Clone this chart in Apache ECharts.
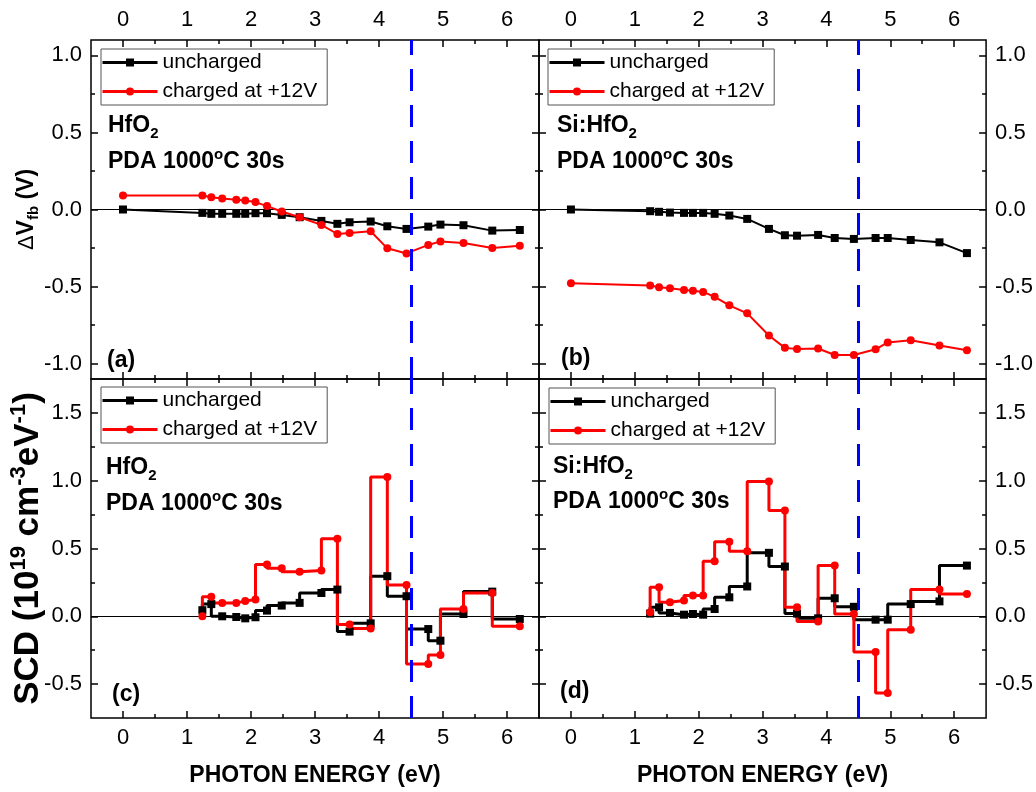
<!DOCTYPE html>
<html>
<head>
<meta charset="utf-8">
<script src="https://cdn.jsdelivr.net/npm/echarts@6/dist/echarts.min.js"></script>
<style>
  html, body { margin: 0; padding: 0; background: #fff; }
  #chart { width: 1036px; height: 792px; }
</style>
</head>
<body>
<div id="chart"></div>
<script>
// Photon energies of the illumination steps (eV); 0 is the dark reference
const photonEnergy = [0, 1.24, 1.38, 1.55, 1.77, 1.91, 2.07, 2.25, 2.48, 2.76, 3.10, 3.35, 3.54, 3.87, 4.13, 4.43, 4.77, 4.96, 5.32, 5.77, 6.20];
// Spectral charge density is given from the first illuminated step on
const scdEnergy = photonEnergy.slice(1);

// Flat-band voltage shift (V)
const dvfbHfO2Uncharged = [0, -0.022, -0.028, -0.028, -0.028, -0.028, -0.024, -0.024, -0.035, -0.050, -0.074, -0.093, -0.083, -0.078, -0.109, -0.126, -0.111, -0.098, -0.102, -0.137, -0.133];
const dvfbHfO2Charged = [0.091, 0.091, 0.080, 0.072, 0.063, 0.059, 0.048, 0.022, -0.013, -0.050, -0.100, -0.159, -0.152, -0.141, -0.252, -0.285, -0.230, -0.207, -0.217, -0.250, -0.235];
const dvfbSiHfO2Uncharged = [0, -0.011, -0.015, -0.020, -0.022, -0.022, -0.022, -0.028, -0.039, -0.061, -0.126, -0.167, -0.170, -0.165, -0.185, -0.191, -0.185, -0.185, -0.198, -0.213, -0.283];
const dvfbSiHfO2Charged = [-0.478, -0.493, -0.504, -0.511, -0.522, -0.528, -0.535, -0.567, -0.622, -0.674, -0.818, -0.898, -0.905, -0.902, -0.944, -0.944, -0.907, -0.863, -0.848, -0.883, -0.913];

// Spectral charge density (1e19 cm^-3 eV^-1)
const scdHfO2Uncharged = [0.045, 0.090, 0.000, -0.005, -0.015, -0.007, 0.042, 0.079, 0.099, 0.172, 0.197, -0.113, -0.052, 0.296, 0.148, -0.094, -0.180, 0.017, 0.182, -0.020];
const scdHfO2Charged = [0.000, 0.145, 0.099, 0.099, 0.112, 0.124, 0.382, 0.354, 0.329, 0.337, 0.571, -0.060, -0.090, 1.027, 0.230, -0.352, -0.286, 0.054, 0.172, -0.074];
const scdSiHfO2Uncharged = [0.020, 0.066, 0.025, 0.012, 0.017, 0.012, 0.054, 0.140, 0.220, 0.468, 0.367, 0.020, -0.015, 0.133, 0.070, -0.025, -0.025, 0.090, 0.110, 0.374];
const scdSiHfO2Charged = [0.030, 0.214, 0.103, 0.116, 0.153, 0.153, 0.406, 0.550, 0.480, 0.995, 0.780, 0.066, -0.039, 0.374, 0.017, -0.263, -0.566, -0.100, 0.197, 0.165];

// Band-gap marker energy (eV)
const thresholdEnergy = 4.5;

// Tick positions
const energyTicks = [0, 1, 2, 3, 4, 5, 6];
const energyMinorTicks = [0.5, 1.5, 2.5, 3.5, 4.5, 5.5];
const dvfbTicks = [-1, -0.5, 0, 0.5, 1];
const dvfbMinorTicks = [-0.75, -0.25, 0.25, 0.75];
const scdTicks = [-0.5, 0, 0.5, 1, 1.5];
const scdMinorTicks = [-0.25, 0.25, 0.75, 1.25];

const seriesNames = ['uncharged', 'charged at +12V'];

const FONT = 'Arial, "Liberation Sans", sans-serif';
const TICK_STYLE = { color: '#000', width: 1.5 };

// rich-text styles for the two y-axis titles
function titleRich(size, subSize) {
  return {
    n: { fontSize: size, fontWeight: 'bold', fontFamily: FONT, color: '#000', lineHeight: size + 6 },
    d: { fontSize: size - 1, fontWeight: 'normal', fontFamily: FONT, color: '#000', lineHeight: size + 6 },
    s: { fontSize: subSize, fontWeight: 'bold', fontFamily: FONT, color: '#000', lineHeight: subSize, verticalAlign: 'bottom' },
    p: { fontSize: subSize, fontWeight: 'bold', fontFamily: FONT, color: '#000', lineHeight: subSize, verticalAlign: 'top' }
  };
}

const panels = [
  { grid: { left: 91, top: 40, width: 448, height: 339 }, yRange: [-1.1, 1.1], yMajor: dvfbTicks, yMinor: dvfbMinorTicks,
    xLabels: 'top', yLabels: 'left', step: false, lineWidth: 2,
    black: dvfbHfO2Uncharged, red: dvfbHfO2Charged, x: photonEnergy,
    yName: '{d|\u0394}{n|V}{s|fb}{n| (V)}', yNameGap: 50, yRich: titleRich(23, 15) },
  { grid: { left: 539, top: 40, width: 449, height: 339 }, yRange: [-1.1, 1.1], yMajor: dvfbTicks, yMinor: dvfbMinorTicks,
    xLabels: 'top', yLabels: 'right', step: false, lineWidth: 2,
    black: dvfbSiHfO2Uncharged, red: dvfbSiHfO2Charged, x: photonEnergy },
  { grid: { left: 91, top: 379, width: 448, height: 339 }, yRange: [-0.75, 1.75], yMajor: scdTicks, yMinor: scdMinorTicks,
    xLabels: 'bottom', yLabels: 'left', step: true, lineWidth: 3,
    black: scdHfO2Uncharged, red: scdHfO2Charged, x: scdEnergy,
    yName: '{n|SCD (10}{p|19}{n| cm}{p|-3}{n|eV}{p|-1}{n|)}', yNameGap: 42, yRich: titleRich(35, 22) },
  { grid: { left: 539, top: 379, width: 449, height: 339 }, yRange: [-0.75, 1.75], yMajor: scdTicks, yMinor: scdMinorTicks,
    xLabels: 'bottom', yLabels: 'right', step: true, lineWidth: 3,
    black: scdSiHfO2Uncharged, red: scdSiHfO2Charged, x: scdEnergy }
];

function axisPair(kind, g, p, pos, labelled) {
  const isX = kind === 'x';
  const base = {
    type: 'value', gridIndex: g, position: pos,
    min: isX ? -0.5 : p.yRange[0], max: isX ? 6.5 : p.yRange[1],
    axisLine: { show: false, onZero: false },
    splitLine: { show: false }
  };
  const major = isX ? energyTicks : p.yMajor;
  const minor = isX ? energyMinorTicks : p.yMinor;
  const majorAxis = Object.assign({}, base, {
    axisTick: { show: true, inside: true, length: 7, lineStyle: TICK_STYLE, customValues: major },
    axisLabel: {
      show: labelled, customValues: major, margin: 9, color: '#000', fontSize: 22, fontFamily: FONT,
      formatter: v => isX ? String(v) : v.toFixed(1)
    }
  });
  if (labelled && isX && pos === 'bottom') {
    Object.assign(majorAxis, {
      name: 'PHOTON ENERGY (eV)', nameLocation: 'middle', nameGap: 46, nameMoveOverlap: false,
      nameTextStyle: { fontSize: 23, fontWeight: 'bold', fontFamily: FONT, color: '#000' }
    });
  }
  if (labelled && !isX && pos === 'left' && p.yName) {
    Object.assign(majorAxis, {
      name: p.yName, nameLocation: 'middle', nameGap: p.yNameGap, nameRotate: 90, nameMoveOverlap: false,
      nameTextStyle: { rich: p.yRich }
    });
  }
  const minorAxis = Object.assign({}, base, {
    axisTick: { show: true, inside: true, length: 4, lineStyle: TICK_STYLE, customValues: minor },
    axisLabel: { show: false }
  });
  return [majorAxis, minorAxis];
}

const xAxes = [], yAxes = [], series = [], grids = [];
panels.forEach((p, g) => {
  grids.push(Object.assign({ show: true, borderColor: '#000', borderWidth: 1.5, backgroundColor: 'transparent' }, p.grid));
  // index 4g is the bottom / left axis carrying the data
  xAxes.push(...axisPair('x', g, p, 'bottom', p.xLabels === 'bottom'), ...axisPair('x', g, p, 'top', p.xLabels === 'top'));
  yAxes.push(...axisPair('y', g, p, 'left', p.yLabels === 'left'), ...axisPair('y', g, p, 'right', p.yLabels === 'right'));

  const common = { type: 'line', xAxisIndex: 4 * g, yAxisIndex: 4 * g, step: p.step ? 'start' : false, symbolSize: 8, z: 2 };
  series.push(Object.assign({}, common, {
    name: seriesNames[0], symbol: 'rect',
    data: p.x.map((e, i) => [e, p.black[i]]),
    itemStyle: { color: '#000' }, lineStyle: { color: '#000', width: p.lineWidth },
    markLine: {
      silent: true, symbol: ['none', 'none'], label: { show: false }, z: 1,
      lineStyle: { color: '#000', width: 1, type: 'solid' },
      data: [{ yAxis: 0 }]
    }
  }));
  series.push(Object.assign({}, common, {
    name: seriesNames[1], symbol: 'circle',
    data: p.x.map((e, i) => [e, p.red[i]]),
    itemStyle: { color: '#ff0000' }, lineStyle: { color: '#ff0000', width: p.lineWidth },
    markLine: {
      silent: true, symbol: ['none', 'none'], label: { show: false },
      lineStyle: { color: '#0000ff', width: 3, type: [22, 14] },
      data: [{ xAxis: thresholdEnergy }]
    }
  }));
});

const legendSpots = [[101, 49], [548, 49], [101, 387], [549, 388]];
const legends = legendSpots.map(([l, t]) => ({
  left: l, top: t, orient: 'vertical', itemWidth: 55, itemHeight: 10, itemGap: 8,
  padding: [3, 10, 3, 0], borderColor: '#555', borderWidth: 1,
  lineStyle: { width: 3 },
  textStyle: { fontSize: 21, color: '#000', fontFamily: FONT },
  data: seriesNames.slice()
}));

const textRich = {
  b: { fontSize: 23, fontWeight: 'bold', fontFamily: FONT, fill: '#000', lineHeight: 30 },
  s: { fontSize: 15, fontWeight: 'bold', fontFamily: FONT, fill: '#000', lineHeight: 15, verticalAlign: 'bottom' },
  p: { fontSize: 15, fontWeight: 'bold', fontFamily: FONT, fill: '#000', lineHeight: 15, verticalAlign: 'top' }
};
function note(x, y, text) {
  return { type: 'text', x: x, y: y, z: 10, style: { text: text, rich: textRich, verticalAlign: 'middle', align: 'left' } };
}
const graphics = [
  note(108, 126, '{b|HfO}{s|2}'), note(108, 162, '{b|PDA 1000}{p|o}{b|C 30s}'), note(107, 361, '{b|(a)}'),
  note(557, 126, '{b|Si:HfO}{s|2}'), note(557, 162, '{b|PDA 1000}{p|o}{b|C 30s}'), note(561, 359, '{b|(b)}'),
  note(106, 468, '{b|HfO}{s|2}'), note(106, 504, '{b|PDA 1000}{p|o}{b|C 30s}'), note(112, 695, '{b|(c)}'),
  note(553, 467, '{b|Si:HfO}{s|2}'), note(553, 502, '{b|PDA 1000}{p|o}{b|C 30s}'), note(560, 692, '{b|(d)}')
];

const chart = echarts.init(document.getElementById('chart'), null, { renderer: 'canvas' });
chart.setOption({
  animation: false,
  backgroundColor: '#fff',
  grid: grids,
  xAxis: xAxes,
  yAxis: yAxes,
  legend: legends,
  series: series,
  graphic: graphics
});
</script>
</body>
</html>
